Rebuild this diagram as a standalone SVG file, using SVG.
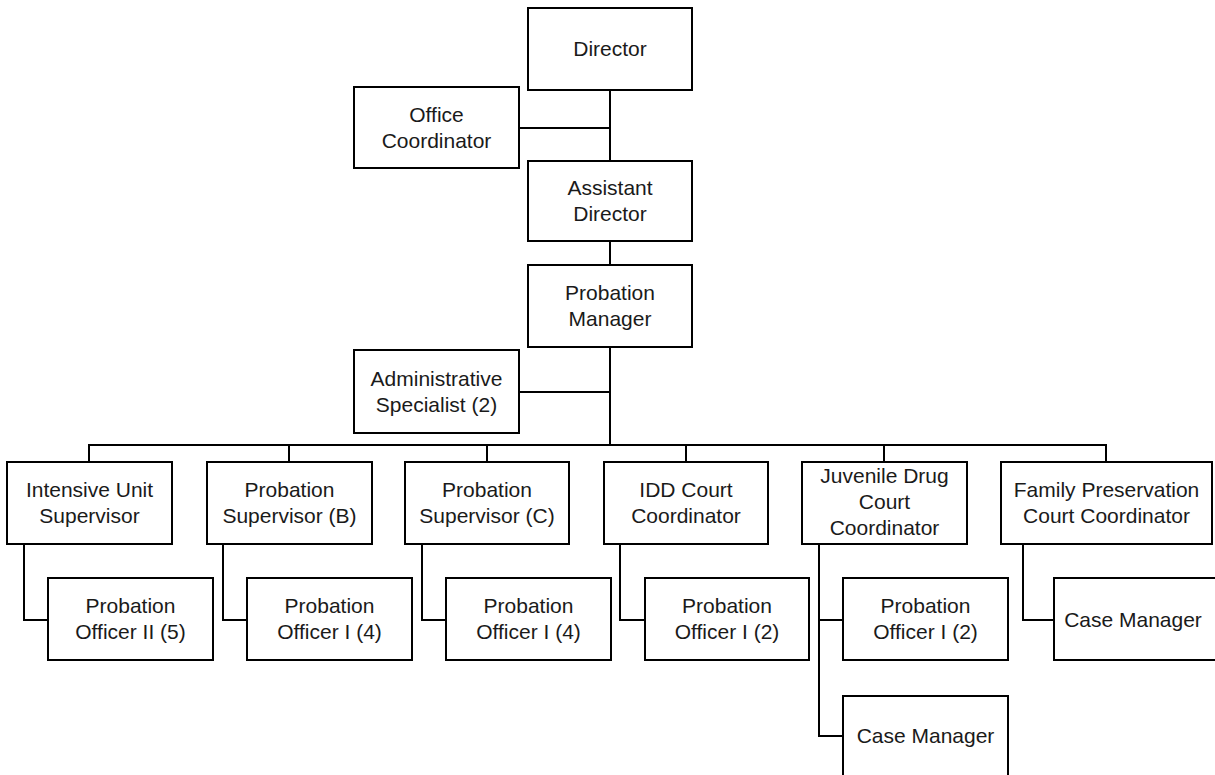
<svg xmlns="http://www.w3.org/2000/svg" width="1215" height="775" viewBox="0 0 1215 775">
<style>
.box{fill:#fff;stroke:#000;stroke-width:2}
.t{font-family:"Liberation Sans",Arial,sans-serif;font-size:21px;fill:#1a1a1a;text-anchor:middle}
.c{fill:none;stroke:#000;stroke-width:2}
</style>
<rect width="1215" height="775" fill="#fff"/>
<g id="connectors">
<path class="c" d="M610 90V445M519 128H610M519 392H610"/>
<path class="c" d="M89 462V445H1106V462M289 445V462M487 445V462M686 445V462M884 445V462"/>
<path class="c" d="M24 544V620H48M223 544V620H247M422 544V620H446M620 544V620H645M819 544V736H843M819 620H843M1023 544V620H1054"/>
</g>
<g id="director"><rect class="box" x="528" y="8" width="164" height="82"/><text class="t" x="610" y="56">Director</text></g>
<g id="office-coordinator"><rect class="box" x="354" y="87" width="165" height="81"/><text class="t" x="436.5" y="122">Office</text><text class="t" x="436.5" y="148">Coordinator</text></g>
<g id="assistant-director"><rect class="box" x="528" y="161" width="164" height="80"/><text class="t" x="610" y="195">Assistant</text><text class="t" x="610" y="221">Director</text></g>
<g id="probation-manager"><rect class="box" x="528" y="265" width="164" height="82"/><text class="t" x="610" y="300">Probation</text><text class="t" x="610" y="326">Manager</text></g>
<g id="administrative-specialist"><rect class="box" x="354" y="350" width="165" height="83"/><text class="t" x="436.5" y="386">Administrative</text><text class="t" x="436.5" y="412">Specialist (2)</text></g>
<g id="intensive-unit-supervisor"><rect class="box" x="7" y="462" width="165" height="82"/><text class="t" x="89.5" y="497">Intensive Unit</text><text class="t" x="89.5" y="523">Supervisor</text></g>
<g id="probation-supervisor-b"><rect class="box" x="207" y="462" width="165" height="82"/><text class="t" x="289.5" y="497">Probation</text><text class="t" x="289.5" y="523">Supervisor (B)</text></g>
<g id="probation-supervisor-c"><rect class="box" x="405" y="462" width="164" height="82"/><text class="t" x="487" y="497">Probation</text><text class="t" x="487" y="523">Supervisor (C)</text></g>
<g id="idd-court-coordinator"><rect class="box" x="604" y="462" width="164" height="82"/><text class="t" x="686" y="497">IDD Court</text><text class="t" x="686" y="523">Coordinator</text></g>
<g id="juvenile-drug-court-coordinator"><rect class="box" x="802" y="462" width="165" height="82"/><text class="t" x="884.5" y="483">Juvenile Drug</text><text class="t" x="884.5" y="509">Court</text><text class="t" x="884.5" y="535">Coordinator</text></g>
<g id="family-preservation-court-coordinator"><rect class="box" x="1001" y="462" width="211" height="82"/><text class="t" x="1106.5" y="497">Family Preservation</text><text class="t" x="1106.5" y="523">Court Coordinator</text></g>
<g id="probation-officer-ii-5"><rect class="box" x="48" y="578" width="165" height="82"/><text class="t" x="130.5" y="613">Probation</text><text class="t" x="130.5" y="639">Officer II (5)</text></g>
<g id="probation-officer-i-4-b"><rect class="box" x="247" y="578" width="165" height="82"/><text class="t" x="329.5" y="613">Probation</text><text class="t" x="329.5" y="639">Officer I (4)</text></g>
<g id="probation-officer-i-4-c"><rect class="box" x="446" y="578" width="165" height="82"/><text class="t" x="528.5" y="613">Probation</text><text class="t" x="528.5" y="639">Officer I (4)</text></g>
<g id="probation-officer-i-2-idd"><rect class="box" x="645" y="578" width="164" height="82"/><text class="t" x="727" y="613">Probation</text><text class="t" x="727" y="639">Officer I (2)</text></g>
<g id="probation-officer-i-2-juvenile"><rect class="box" x="843" y="578" width="165" height="82"/><text class="t" x="925.5" y="613">Probation</text><text class="t" x="925.5" y="639">Officer I (2)</text></g>
<g id="case-manager-juvenile"><rect class="box" x="843" y="696" width="165" height="84"/><text class="t" x="925.5" y="743">Case Manager</text></g>
<g id="case-manager-family"><rect class="box" x="1054" y="578" width="165" height="82"/><text class="t" x="1133" y="627">Case Manager</text></g>
</svg>
